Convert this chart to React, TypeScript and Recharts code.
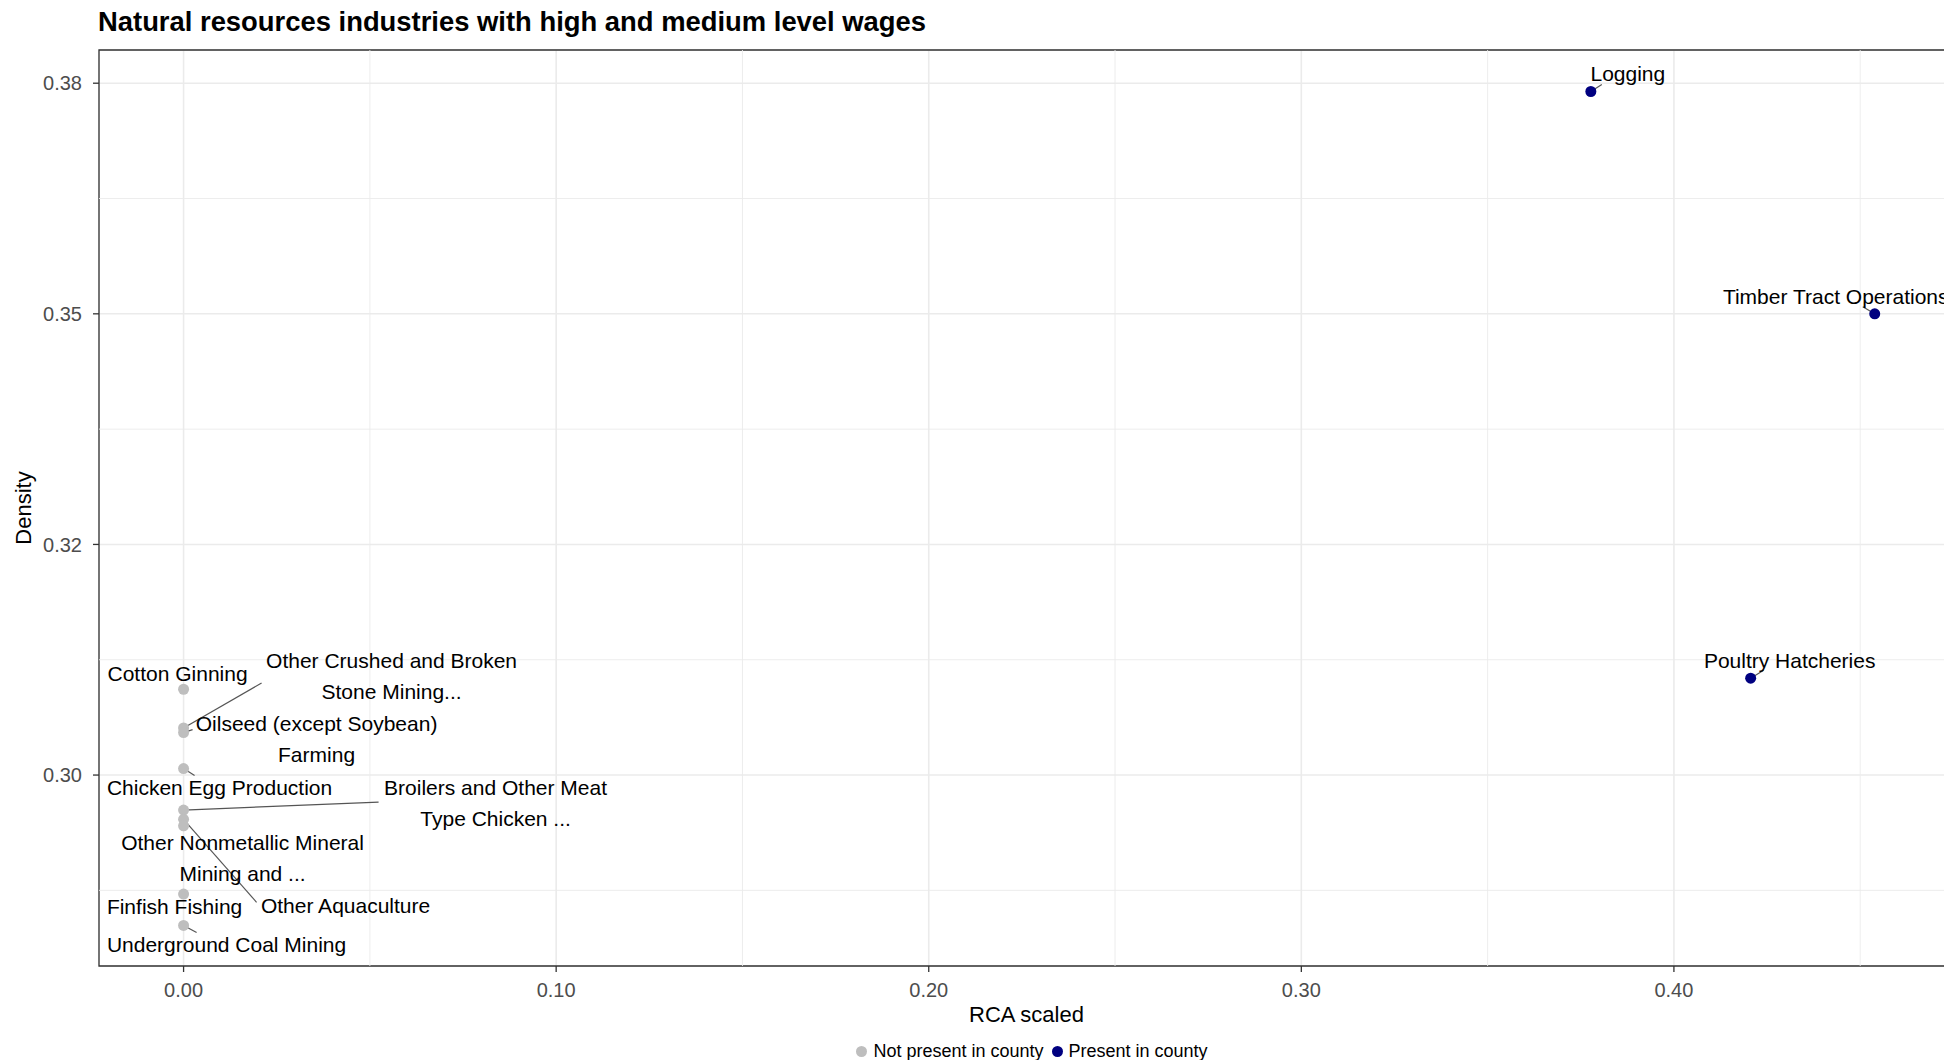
import { ScatterChart, Scatter, XAxis, YAxis, CartesianGrid, ReferenceLine, ReferenceArea, Legend } from 'recharts'

// industries not present in the county (all at RCA 0)
const notPresentNames = [
  'Cotton Ginning',
  'Other Crushed and Broken\nStone Mining...',
  'Oilseed (except Soybean)\nFarming',
  'Chicken Egg Production',
  'Broilers and Other Meat\nType Chicken ...',
  'Other Aquaculture',
  'Other Nonmetallic Mineral\nMining and ...',
  'Finfish Fishing',
  'Underground Coal Mining',
]
const notPresentRca = [0, 0, 0, 0, 0, 0, 0, 0, 0]
const notPresentDensity = [0.3093, 0.3051, 0.3046, 0.3007, 0.2962, 0.2952, 0.2945, 0.2871, 0.2837]

// industries present in the county
const presentNames = ['Logging', 'Timber Tract Operations', 'Poultry Hatcheries']
const presentRca = [0.3777, 0.4539, 0.4206]
const presentDensity = [0.3741, 0.35, 0.3105]

const xTicks = [0, 0.1, 0.2, 0.3, 0.4]
const xTickLabels = ['0.00', '0.10', '0.20', '0.30', '0.40']
const xMinor = [0.05, 0.15, 0.25, 0.35, 0.45]
const yTicks = [0.3, 0.325, 0.35, 0.375]
const yTickLabels = ['0.30', '0.32', '0.35', '0.38']
const yMinor = [0.2875, 0.3125, 0.3375, 0.3625]

const X_DOMAIN: [number, number] = [-0.0227, 0.4741]
const Y_DOMAIN: [number, number] = [0.2793, 0.3786]

const GREY = '#bebebe'
const NAVY = '#000080'
const FONT = '"Liberation Sans", Arial, sans-serif'

// repelled label placement, pixel offsets from the point (label centre + segment end)
const LABEL_LAYOUT: Record<string, { dx: number; dy: number; sx?: number; sy?: number }> = {
  'Cotton Ginning': { dx: -6, dy: -16 },
  'Other Crushed and Broken\nStone Mining...': { dx: 208, dy: -52, sx: 78, sy: -45 },
  'Oilseed (except Soybean)\nFarming': { dx: 133, dy: 6, sx: 9, sy: -3 },
  'Chicken Egg Production': { dx: 36, dy: 19, sx: 11, sy: 7 },
  'Broilers and Other Meat\nType Chicken ...': { dx: 312, dy: -7, sx: 195, sy: -8 },
  'Other Aquaculture': { dx: 162, dy: 86, sx: 73, sy: 83 },
  'Other Nonmetallic Mineral\nMining and ...': { dx: 59, dy: 32 },
  'Finfish Fishing': { dx: -9, dy: 12 },
  'Underground Coal Mining': { dx: 43, dy: 19, sx: 13, sy: 7 },
  'Logging': { dx: 37, dy: -18, sx: 11, sy: -7 },
  'Timber Tract Operations': { dx: -39, dy: -17, sx: -12, sy: -7 },
  'Poultry Hatcheries': { dx: 39, dy: -18, sx: 13, sy: -8 },
}

const notPresentData = notPresentNames.map((name, i) => ({
  name,
  rca: notPresentRca[i],
  density: notPresentDensity[i],
}))
const presentData = presentNames.map((name, i) => ({
  name,
  rca: presentRca[i],
  density: presentDensity[i],
}))

const makeShape = (fill: string) => (props: any) => {
  const { cx, cy, payload } = props
  const lay = LABEL_LAYOUT[payload.name] ?? { dx: 0, dy: -18 }
  const lines = String(payload.name).split('\n')
  const lh = 31
  const top = cy + lay.dy - ((lines.length - 1) * lh) / 2
  return (
    <g>
      {lay.sx !== undefined && (
        <line x1={cx} y1={cy} x2={cx + lay.sx} y2={cy + (lay.sy ?? 0)} stroke="#555" strokeWidth={1.2} />
      )}
      <circle cx={cx} cy={cy} r={5.5} fill={fill} />
      {lines.map((l, i) => (
        <text
          key={i}
          x={cx + lay.dx}
          y={top + i * lh}
          textAnchor="middle"
          dominantBaseline="central"
          fontSize={21}
          fontFamily={FONT}
          fill="#000"
        >
          {l}
        </text>
      ))}
    </g>
  )
}

const renderLegend = () => (
  <div
    style={{
      height: 30,
      display: 'flex',
      justifyContent: 'center',
      alignItems: 'center',
      fontSize: 18,
      fontFamily: FONT,
      color: '#000',
    }}
  >
    {[
      { label: 'Not present in county', color: GREY },
      { label: 'Present in county', color: NAVY },
    ].map(item => (
      <span key={item.label} style={{ display: 'flex', alignItems: 'center', marginRight: 8 }}>
        <span
          style={{
            width: 11,
            height: 11,
            borderRadius: '50%',
            background: item.color,
            display: 'inline-block',
            marginRight: 6,
          }}
        />
        {item.label}
      </span>
    ))}
  </div>
)

export default function App() {
  return (
    <div
      style={{
        position: 'absolute',
        left: 0,
        top: 0,
        width: 1944,
        height: 1060,
        overflow: 'hidden',
        background: '#fff',
        fontFamily: FONT,
      }}
    >
      <div
        style={{
          position: 'absolute',
          left: 98,
          top: 8,
          fontSize: 27.4,
          lineHeight: '27px',
          fontWeight: 'bold',
          color: '#000',
          whiteSpace: 'nowrap',
        }}
      >
        Natural resources industries with high and medium level wages
      </div>
      <ScatterChart
        width={1950}
        height={1060}
        margin={{ top: 50, right: 0, bottom: 0, left: 0 }}
        style={{ fontFamily: FONT }}
      >
        <CartesianGrid stroke="#ebebeb" strokeWidth={1.6} />
        {xMinor.map(v => (
          <ReferenceLine key={'x' + v} x={v} stroke="#ebebeb" strokeWidth={0.9} />
        ))}
        {yMinor.map(v => (
          <ReferenceLine key={'y' + v} y={v} stroke="#ebebeb" strokeWidth={0.9} />
        ))}
        <XAxis
          type="number"
          dataKey="rca"
          domain={X_DOMAIN}
          ticks={xTicks}
          allowDataOverflow
          height={64}
          axisLine={false}
          tickLine={{ stroke: '#333', strokeWidth: 1.3 }}
          tickSize={6}
          tickMargin={11}
          tick={{ fontSize: 20, fill: '#4d4d4d', fontFamily: FONT }}
          tickFormatter={(v: number) => xTickLabels[xTicks.indexOf(v)] ?? String(v)}
          label={({ viewBox }: any) => (
            <text
              x={viewBox.x + viewBox.width / 2 + 2}
              y={viewBox.y + 48}
              textAnchor="middle"
              dominantBaseline="central"
              fontSize={22}
              fontFamily={FONT}
              fill="#000"
            >
              RCA scaled
            </text>
          )}
        />
        <YAxis
          type="number"
          dataKey="density"
          domain={Y_DOMAIN}
          ticks={yTicks}
          allowDataOverflow
          width={99}
          axisLine={false}
          tickLine={{ stroke: '#333', strokeWidth: 1.3 }}
          tickSize={6}
          tickMargin={11}
          tick={{ fontSize: 20, fill: '#4d4d4d', fontFamily: FONT }}
          tickFormatter={(v: number) => yTickLabels[yTicks.indexOf(v)] ?? String(v)}
          label={({ viewBox }: any) => {
            const cx = 23.5
            const cy = viewBox.y + viewBox.height / 2
            return (
              <text
                x={cx}
                y={cy}
                transform={`rotate(-90 ${cx} ${cy})`}
                textAnchor="middle"
                dominantBaseline="central"
                fontSize={22}
                fontFamily={FONT}
                fill="#000"
              >
                Density
              </text>
            )
          }}
        />
        <ReferenceArea
          x1={X_DOMAIN[0]}
          x2={X_DOMAIN[1]}
          y1={Y_DOMAIN[0]}
          y2={Y_DOMAIN[1]}
          fill="none"
          fillOpacity={0}
          stroke="#333"
          strokeWidth={1.3}
          ifOverflow="visible"
        />
        <Legend
          verticalAlign="bottom"
          content={renderLegend}
          wrapperStyle={{ left: 64, width: 1944, bottom: -6 }}
        />
        <Scatter
          name="Not present in county"
          data={notPresentData}
          fill={GREY}
          shape={makeShape(GREY)}
          isAnimationActive={false}
        />
        <Scatter
          name="Present in county"
          data={presentData}
          fill={NAVY}
          shape={makeShape(NAVY)}
          isAnimationActive={false}
        />
      </ScatterChart>
    </div>
  )
}
